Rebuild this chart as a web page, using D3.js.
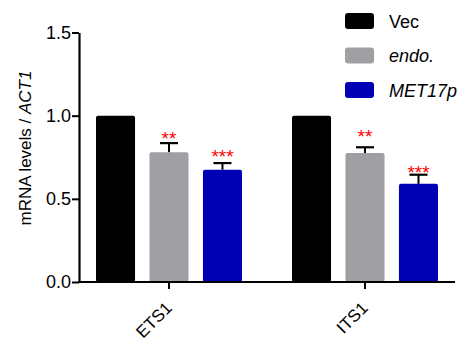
<!DOCTYPE html>
<html>
<head>
<meta charset="utf-8">
<script src="https://cdn.jsdelivr.net/npm/d3@7"></script>
<style>
  body { margin: 0; background: #fff; }
  svg { display: block; font-family: Arial, "Liberation Sans", sans-serif; }
</style>
</head>
<body>
<div id="chart"></div>
<script>
// data
const groups = ["ETS1", "ITS1"];
const series = ["Vec", "endo.", "MET17p"];
const seriesItalic = [false, true, true];
const colors = ["#000000", "#a0a0a4", "#0000b4"];
const values = [
  [1.0, 0.78, 0.675],   // ETS1
  [1.0, 0.775, 0.59]    // ITS1
];
const errUpper = [
  [null, 0.835, 0.715],
  [null, 0.81, 0.645]
];
const stars = [
  ["", "**", "***"],
  ["", "**", "***"]
];
const starLevel = [
  [null, 0.892, 0.784],
  [null, 0.904, 0.683]
];
const yTicks = [0, 0.5, 1.0, 1.5];

const width = 474, height = 342;
const svg = d3.select("#chart").append("svg")
  .attr("width", width).attr("height", height);

const y = d3.scaleLinear().domain([0, 1.5]).range([282, 32.5]);
const x0 = d3.scaleBand().domain(groups).range([71, 463]);
const x1 = d3.scaleBand().domain(series).range([-73, 73]).paddingInner(0.27);

// bars
groups.forEach((g, gi) => {
  const cx = x0(g) + x0.bandwidth() / 2;
  const gG = svg.append("g").attr("transform", `translate(${cx},0)`);

  series.forEach((s, si) => {
    // error bar (upper only, bar covers lower part)
    if (errUpper[gi][si] != null) {
      const bx = x1(s) + x1.bandwidth() / 2;
      gG.append("line")
        .attr("x1", bx).attr("x2", bx)
        .attr("y1", y(values[gi][si])).attr("y2", y(errUpper[gi][si]))
        .attr("stroke", "#000").attr("stroke-width", 2);
      gG.append("line")
        .attr("x1", bx - 9).attr("x2", bx + 9)
        .attr("y1", y(errUpper[gi][si])).attr("y2", y(errUpper[gi][si]))
        .attr("stroke", "#000").attr("stroke-width", 2.2);
    }
    gG.append("rect")
      .attr("x", x1(s))
      .attr("y", y(values[gi][si]))
      .attr("width", x1.bandwidth())
      .attr("height", y(0) - y(values[gi][si]))
      .attr("rx", 2)
      .attr("fill", colors[si]);

    if (stars[gi][si]) {
      gG.append("text")
        .attr("x", x1(s) + x1.bandwidth() / 2)
        .attr("y", y(starLevel[gi][si]) + 11)
        .attr("text-anchor", "middle")
        .attr("fill", "#ff0000")
        .attr("font-size", "19px")
        .text(stars[gi][si]);
    }
  });
});

// y axis
const yAxis = svg.append("g")
  .attr("transform", "translate(79,0)")
  .call(d3.axisLeft(y).tickValues(yTicks).tickFormat(d3.format(".1f")).tickSize(7).tickPadding(1).tickSizeOuter(0));
yAxis.select(".domain").attr("stroke-width", 2.2);
yAxis.selectAll(".tick line").attr("stroke-width", 2);
yAxis.selectAll(".tick text").attr("font-size", "18px").attr("fill", "#000")
  .attr("font-family", "Arial, 'Liberation Sans', sans-serif");

// x axis
const xAxis = svg.append("g")
  .attr("transform", `translate(0,${y(0)})`)
  .call(d3.axisBottom(x0).tickSize(7).tickSizeOuter(0).tickFormat(""));
xAxis.select(".domain").attr("d", "M78,0H455").attr("stroke-width", 2.2);
xAxis.selectAll(".tick line").attr("stroke-width", 2);

groups.forEach(g => {
  const cx = x0(g) + x0.bandwidth() / 2;
  svg.append("text")
    .attr("transform", `translate(${cx + 4},${y(0) + 27}) rotate(-45)`)
    .attr("text-anchor", "end")
    .attr("font-size", "17px")
    .attr("fill", "#000")
    .text(g);
});

// y label
const yl = svg.append("text")
  .attr("transform", "translate(31,148) rotate(-90)")
  .attr("text-anchor", "middle")
  .attr("font-size", "17px")
  .attr("fill", "#000");
yl.append("tspan").text("mRNA levels / ");
yl.append("tspan").attr("font-style", "italic").text("ACT1");

// legend
const legend = svg.append("g").attr("transform", "translate(345,21)");
series.forEach((s, i) => {
  const row = legend.append("g").attr("transform", `translate(0,${i * 34.5})`);
  row.append("rect")
    .attr("x", 0).attr("y", -8)
    .attr("width", 29).attr("height", 16)
    .attr("rx", 3)
    .attr("fill", colors[i]);
  row.append("text")
    .attr("x", 44).attr("y", 6.5)
    .attr("font-size", "18px")
    .attr("font-style", seriesItalic[i] ? "italic" : "normal")
    .attr("fill", "#000")
    .text(s);
});
</script>
</body>
</html>
